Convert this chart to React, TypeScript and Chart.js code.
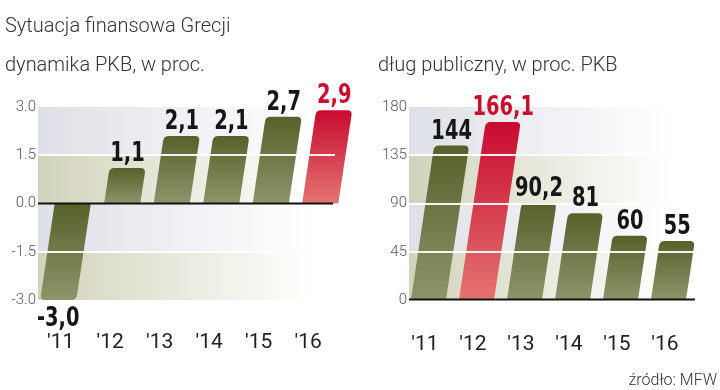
import React, { useEffect, useRef } from "react";
import { Chart, registerables } from "chart.js";

Chart.register(...registerables);

// ---------- data ----------
const mainTitle = "Sytuacja finansowa Grecji";
const sourceText = "źródło: MFW";
const years = ["'11", "'12", "'13", "'14", "'15", "'16"];

const gdpTitle = "dynamika PKB, w proc.";
const gdpValues = [-3.0, 1.1, 2.1, 2.1, 2.7, 2.9];
const gdpTicks = [-3, -1.5, 0, 1.5, 3];
const gdpHighlight = 5;

const debtTitle = "dług publiczny, w proc. PKB";
const debtValues = [144, 166.1, 90.2, 81, 60, 55];
const debtTicks = [0, 45, 90, 135, 180];
const debtHighlight = 1;

// ---------- styles ----------
const OLIVE_TOP = "#57612a";
const OLIVE_BOTTOM = "#8e946b";
const RED_TOP = "#c80a30";
const RED_BOTTOM = "#e37470";
const BAND_GRAY = "#dde0e6";
const BAND_BEIGE = "#d2d3bb";
const LABEL_DARK = "#161616";
const LABEL_RED = "#c8102e";
const SKEW = 0.15;
const VALUE_FONT = '"DejaVu Sans Condensed", "DejaVu Sans", sans-serif';
const VALUE_SIZE = 27;
const VALUE_SQUEEZE = 0.8;

const fmtValue = (v: number, fixed: boolean) =>
  fixed || !Number.isInteger(v) ? v.toFixed(1).replace(".", ",") : String(v);

function makeSlantPlugin(highlight: number, ticks: number[], fixed: boolean) {
  return {
    id: "slantBars",
    beforeDatasetsDraw(chart: any) {
      const { ctx, chartArea: a } = chart;
      const y = chart.scales.y;
      const sorted = [...ticks].sort((p, q) => q - p);
      ctx.save();
      for (let i = 0; i < sorted.length - 1; i++) {
        const yt = y.getPixelForValue(sorted[i]);
        const yb = y.getPixelForValue(sorted[i + 1]);
        const col = i % 2 === 0 ? BAND_GRAY : BAND_BEIGE;
        const g = ctx.createLinearGradient(a.left, 0, a.right, 0);
        g.addColorStop(0, col);
        g.addColorStop(0.93, "#ffffff");
        g.addColorStop(1, "#ffffff");
        ctx.fillStyle = g;
        ctx.fillRect(a.left, yt, a.right - a.left, yb - yt);
      }
      ctx.restore();
    },
    beforeDatasetDraw() {
      return false;
    },
    afterDatasetsDraw(chart: any) {
      const { ctx, chartArea: a } = chart;
      const y = chart.scales.y;
      const meta = chart.getDatasetMeta(0);
      const values = chart.data.datasets[0].data as number[];
      const ref = a.bottom - 30;
      const sx = (yy: number) => (ref - yy) * SKEW;
      ctx.save();
      // bars
      meta.data.forEach((el: any, i: number) => {
        const { x, y: yv, base, width } = el.getProps(["x", "y", "base", "width"], true);
        const up = yv < base;
        const d = up ? 1 : -1;
        const r = Math.min(5, Math.abs(base - yv) / 2);
        const hw = width / 2;
        const L = (yy: number) => x - hw + sx(yy);
        const R = (yy: number) => x + hw + sx(yy);
        ctx.beginPath();
        ctx.moveTo(L(base), base);
        ctx.lineTo(L(yv + d * r), yv + d * r);
        ctx.quadraticCurveTo(L(yv), yv, L(yv) + r, yv);
        ctx.lineTo(R(yv) - r, yv);
        ctx.quadraticCurveTo(R(yv), yv, R(yv + d * r), yv + d * r);
        ctx.lineTo(R(base), base);
        ctx.closePath();
        const top = Math.min(yv, base);
        const bot = Math.max(yv, base);
        const g = ctx.createLinearGradient(0, top, 0, bot);
        const hi = i === highlight;
        g.addColorStop(0, hi ? RED_TOP : OLIVE_TOP);
        g.addColorStop(1, hi ? RED_BOTTOM : OLIVE_BOTTOM);
        ctx.fillStyle = g;
        ctx.fill();
      });
      // white grid lines over bars
      const minT = Math.min(...ticks);
      const maxT = Math.max(...ticks);
      ctx.strokeStyle = "rgba(255,255,255,0.92)";
      ctx.lineWidth = 2;
      ticks.forEach((t) => {
        if (t === 0 || t === minT || t === maxT) return;
        const py = Math.round(y.getPixelForValue(t));
        ctx.beginPath();
        ctx.moveTo(a.left, py);
        ctx.lineTo(a.right, py);
        ctx.stroke();
      });
      // zero line
      const zy = Math.round(y.getPixelForValue(0)) - 0.5;
      ctx.strokeStyle = "#111";
      ctx.lineWidth = 2;
      ctx.beginPath();
      ctx.moveTo(a.left, zy);
      ctx.lineTo(a.right - 2, zy);
      ctx.stroke();
      // value labels
      ctx.font = `bold ${VALUE_SIZE}px ${VALUE_FONT}`;
      ctx.textAlign = "center";
      ctx.textBaseline = "alphabetic";
      meta.data.forEach((el: any, i: number) => {
        const { x, y: yv, base } = el.getProps(["x", "y", "base"], true);
        const up = yv < base;
        ctx.fillStyle = i === highlight ? LABEL_RED : LABEL_DARK;
        const cx = x + sx(yv);
        const ty = up ? yv - 7 : yv + 7 + VALUE_SIZE * 0.72;
        ctx.save();
        ctx.translate(cx, ty);
        ctx.scale(VALUE_SQUEEZE, 1);
        ctx.fillText(fmtValue(values[i], fixed), 0, 0);
        ctx.restore();
      });
      ctx.restore();
    },
  };
}

type PanelProps = {
  values: number[];
  ticks: number[];
  highlight: number;
  decimals: number;
  yWidth: number;
  padRight: number;
  labelOffset: number;
  xPad: number;
};

function Panel(p: PanelProps) {
  const ref = useRef<HTMLCanvasElement | null>(null);
  useEffect(() => {
    if (!ref.current) return;
    const chart = new Chart(ref.current, {
      type: "bar",
      data: {
        labels: years,
        datasets: [
          {
            data: p.values,
            backgroundColor: "rgba(0,0,0,0)",
            borderWidth: 0,
            barPercentage: 0.73,
            categoryPercentage: 1,
          },
        ],
      },
      options: {
        animation: false,
        responsive: false,
        maintainAspectRatio: false,
        layout: { padding: { top: 107, right: p.padRight, left: 0, bottom: 0 } },
        plugins: { legend: { display: false }, tooltip: { enabled: false } },
        scales: {
          x: {
            grid: { display: false, drawTicks: false },
            border: { display: false },
            ticks: {
              font: { family: "Roboto", size: 21 },
              color: "#222",
              padding: p.xPad,
              labelOffset: p.labelOffset,
              autoSkip: false,
              maxRotation: 0,
            },
            afterFit: (s: any) => {
              s.height = 90;
            },
          },
          y: {
            min: Math.min(...p.ticks),
            max: Math.max(...p.ticks),
            grid: { display: false, drawTicks: false },
            border: { display: false },
            ticks: {
              font: { family: "Roboto", size: 15, weight: "300" },
              color: "#555",
              padding: 2,
              callback: (v: any) => Number(v).toFixed(p.decimals),
            },
            afterBuildTicks: (s: any) => {
              s.ticks = p.ticks.map((v) => ({ value: v }));
            },
            afterFit: (s: any) => {
              s.width = p.yWidth;
            },
          },
        },
      } as any,
      plugins: [makeSlantPlugin(p.highlight, p.ticks, p.decimals > 0)],
    });
    return () => chart.destroy();
  }, []);
  return <canvas ref={ref} width={360} height={390} style={{ width: 360, height: 390, display: "block" }} />;
}

const textStyle: React.CSSProperties = {
  position: "absolute",
  fontFamily: "Roboto, sans-serif",
  fontWeight: 300,
  color: "#333",
  whiteSpace: "nowrap",
};

export default function App() {
  useEffect(() => {
    document.body.style.margin = "0";
  }, []);
  return (
    <div style={{ position: "relative", width: 720, height: 390, background: "#fff", overflow: "hidden" }}>
      <div style={{ position: "absolute", left: 0, top: 0 }}>
        <Panel values={gdpValues} ticks={gdpTicks} highlight={gdpHighlight} decimals={1} yWidth={38} padRight={25} labelOffset={-2} xPad={30} />
      </div>
      <div style={{ position: "absolute", left: 360, top: 0 }}>
        <Panel values={debtValues} ticks={debtTicks} highlight={debtHighlight} decimals={0} yWidth={49} padRight={17} labelOffset={-8} xPad={32} />
      </div>
      <div style={{ ...textStyle, left: 5, top: 15, fontSize: 20, lineHeight: "20px" }}>{mainTitle}</div>
      <div style={{ ...textStyle, left: 5, top: 54, fontSize: 20, lineHeight: "20px" }}>{gdpTitle}</div>
      <div style={{ ...textStyle, left: 378, top: 54, fontSize: 20, lineHeight: "20px" }}>{debtTitle}</div>
      <div style={{ ...textStyle, right: 3, top: 372, fontSize: 16, lineHeight: "16px" }}>{sourceText}</div>
    </div>
  );
}
